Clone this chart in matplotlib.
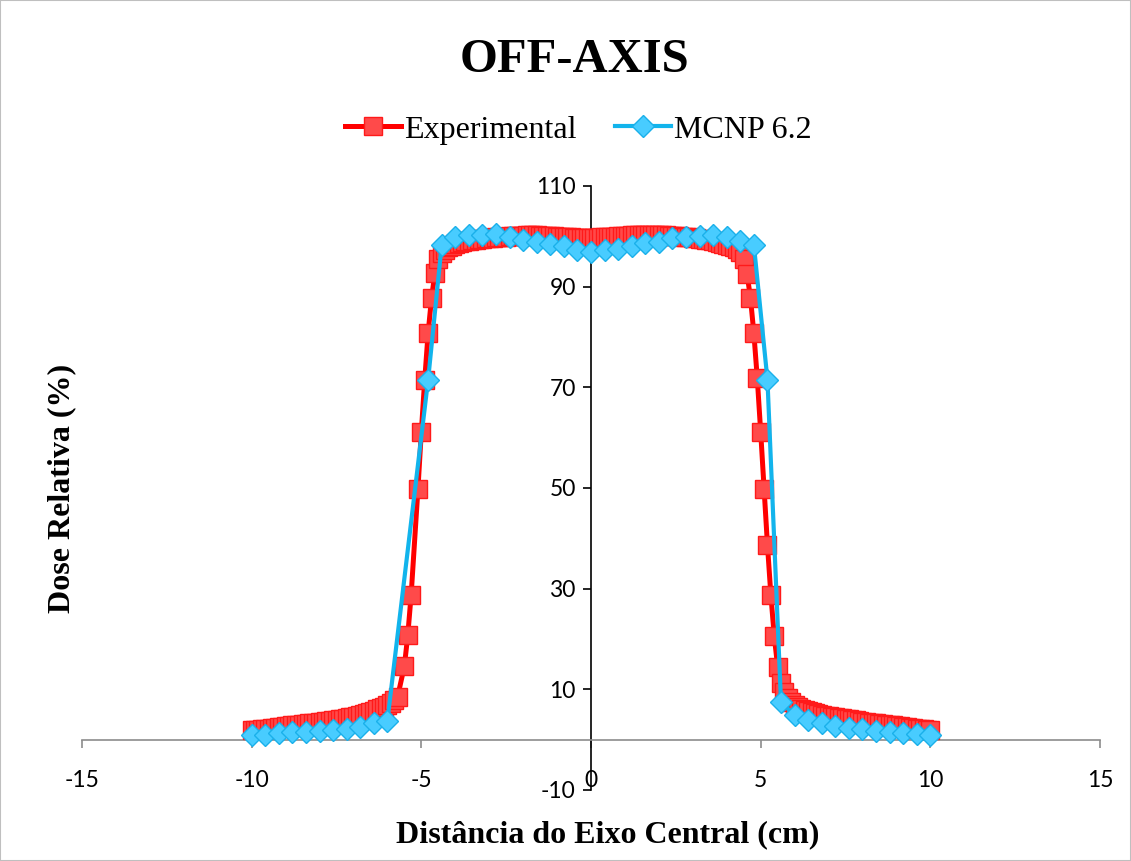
import numpy as np
import matplotlib
matplotlib.use("Agg")
import matplotlib.pyplot as plt
from matplotlib.patches import Rectangle

# Experimental (0.1 cm steps, a few gaps in the left penumbra)
exp_x = [
    -10.0, -9.9, -9.8, -9.7, -9.6, -9.5, -9.4, -9.3, -9.2, -9.1,
    -9.0, -8.9, -8.8, -8.7, -8.6, -8.5, -8.4, -8.3, -8.2, -8.1,
    -8.0, -7.9, -7.8, -7.7, -7.6, -7.5, -7.4, -7.3, -7.2, -7.1,
    -7.0, -6.9, -6.8, -6.7, -6.6, -6.5, -6.4, -6.3, -6.2, -6.1,
    -6.0, -5.9, -5.8, -5.7, -5.5, -5.4, -5.3, -5.1, -5.0, -4.9,
    -4.8, -4.7, -4.6, -4.5, -4.4,
    -4.3, -4.2, -4.1, -4.0, -3.9, -3.8, -3.7, -3.6, -3.5, -3.4,
    -3.3, -3.2, -3.1, -3.0, -2.9, -2.8, -2.7, -2.6, -2.5, -2.4,
    -2.3, -2.2, -2.1, -2.0, -1.9, -1.8, -1.7, -1.6, -1.5, -1.4,
    -1.3, -1.2, -1.1, -1.0, -0.9, -0.8, -0.7, -0.6, -0.5, -0.4,
    -0.3, -0.2, -0.1, 0.0, 0.1, 0.2, 0.3, 0.4, 0.5, 0.6,
    0.7, 0.8, 0.9, 1.0, 1.1, 1.2, 1.3, 1.4, 1.5, 1.6,
    1.7, 1.8, 1.9, 2.0, 2.1, 2.2, 2.3, 2.4, 2.5, 2.6,
    2.7, 2.8, 2.9, 3.0, 3.1, 3.2, 3.3, 3.4, 3.5, 3.6,
    3.7, 3.8, 3.9, 4.0, 4.1, 4.2, 4.3, 4.4,
    4.5, 4.6, 4.7, 4.8, 4.9, 5.0, 5.1, 5.2, 5.3, 5.4, 5.5,
    5.6, 5.7, 5.8, 5.9, 6.0, 6.1, 6.2, 6.3, 6.4, 6.5,
    6.6, 6.7, 6.8, 6.9, 7.0, 7.1, 7.2, 7.3, 7.4, 7.5,
    7.6, 7.7, 7.8, 7.9, 8.0, 8.1, 8.2, 8.3, 8.4, 8.5,
    8.6, 8.7, 8.8, 8.9, 9.0, 9.1, 9.2, 9.3, 9.4, 9.5,
    9.6, 9.7, 9.8, 9.9, 10.0,
]
exp_y = [
    1.9, 2.0, 2.0, 2.1, 2.1, 2.2, 2.3, 2.4, 2.5, 2.6,
    2.7, 2.8, 2.9, 2.9, 3.0, 3.1, 3.2, 3.3, 3.3, 3.4,
    3.5, 3.6, 3.7, 3.8, 3.9, 4.0, 4.1, 4.2, 4.3, 4.5,
    4.6, 4.8, 4.9, 5.1, 5.3, 5.5, 5.7, 6.0, 6.2, 6.5,
    6.9, 7.3, 7.8, 8.5, 14.6, 20.7, 28.8, 49.8, 61.2, 71.5,
    80.8, 87.7, 92.7, 95.4, 96.7,
    97.3, 97.8, 98.1, 98.4, 98.6, 98.8, 99.0, 99.1, 99.2, 99.3,
    99.4, 99.5, 99.6, 99.7, 99.7, 99.8, 99.8, 99.9, 99.9, 100.0,
    100.0, 100.1, 100.1, 100.1, 100.2, 100.2, 100.2, 100.2, 100.1, 100.1,
    100.1, 100.0, 100.0, 99.9, 99.9, 99.8, 99.8, 99.8, 99.7, 99.7,
    99.7, 99.7, 99.7, 99.7, 99.7, 99.7, 99.8, 99.8, 99.8, 99.9,
    99.9, 100.0, 100.0, 100.1, 100.1, 100.2, 100.2, 100.2, 100.3, 100.3,
    100.3, 100.3, 100.3, 100.2, 100.2, 100.2, 100.1, 100.1, 100.0, 100.0,
    99.9, 99.9, 99.8, 99.7, 99.6, 99.5, 99.4, 99.3, 99.2, 99.0,
    98.9, 98.7, 98.5, 98.3, 98.1, 97.8, 97.4, 96.9,
    95.4, 92.5, 87.7, 80.7, 71.8, 61.2, 49.8, 38.7, 28.8, 20.6, 14.5,
    11.2, 9.5, 8.3, 7.5, 6.9, 6.4, 6.0, 5.8, 5.6, 5.4,
    5.2, 5.1, 5.0, 4.8, 4.7, 4.6, 4.5, 4.4, 4.3, 4.2,
    4.1, 4.0, 3.9, 3.7, 3.6, 3.5, 3.4, 3.3, 3.3, 3.2,
    3.1, 3.0, 3.0, 2.9, 2.8, 2.7, 2.6, 2.5, 2.4, 2.3,
    2.2, 2.1, 2.1, 2.0, 1.9,
]

# MCNP 6.2 (0.4 cm steps)
mcnp_x = [
    -10.0, -9.6, -9.2, -8.8, -8.4, -8.0, -7.6, -7.2, -6.8, -6.4, -6.0,
    -4.8, -4.4, -4.0, -3.6, -3.2, -2.8, -2.4, -2.0, -1.6, -1.2, -0.8, -0.4,
    0.0, 0.4, 0.8, 1.2, 1.6, 2.0, 2.4, 2.8, 3.2, 3.6, 4.0, 4.4, 4.8,
    5.2, 5.6, 6.0, 6.4, 6.8, 7.2, 7.6, 8.0, 8.4, 8.8, 9.2, 9.6, 10.0,
]
mcnp_y = [
    0.9, 0.9, 1.3, 1.5, 1.6, 1.7, 1.9, 2.1, 2.6, 3.3, 3.8,
    71.5, 98.3, 99.9, 100.3, 100.3, 100.5, 99.8, 99.3, 98.9, 98.5, 98.1, 97.2,
    96.8, 97.2, 97.4, 98.1, 98.6, 98.9, 99.6, 99.9, 100.1, 100.3, 99.9, 99.1, 98.3,
    71.5, 7.4, 4.9, 3.9, 3.3, 2.7, 2.3, 2.1, 1.8, 1.6, 1.3, 1.1, 0.9,
]

xticks = [-15, -10, -5, 0, 5, 10, 15]
yticks = [-10, 10, 30, 50, 70, 90, 110]

serif = "Liberation Serif"
sans = "Lato"
plt.rcParams["axes.unicode_minus"] = False

fig = plt.figure(figsize=(11.31, 8.61), dpi=100)
ax = fig.add_axes([82 / 1131, 1 - 790 / 861, 1018 / 1131, 604 / 861])

ax.plot(exp_x, exp_y, color="#ff0000", lw=3.6, marker="s", markersize=13,
        markerfacecolor="#ff4a4a", markeredgecolor="#ff1a1a", markeredgewidth=1,
        label="Experimental", zorder=3)
ax.plot(mcnp_x, mcnp_y, color="#12b4ec", lw=3.0, marker="D", markersize=11.5,
        markerfacecolor="#48ccff", markeredgecolor="#1ab0ea", markeredgewidth=1,
        label="MCNP 6.2", zorder=4)

ax.set_xlim(-15, 15)
ax.set_ylim(-10, 110)
ax.set_xticks(xticks)
ax.set_yticks(yticks)

ax.spines["top"].set_visible(False)
ax.spines["right"].set_visible(False)
ax.spines["left"].set_position(("data", 0))
ax.spines["bottom"].set_position(("data", 0))
ax.spines["left"].set_color("black")
ax.spines["left"].set_linewidth(1.2)
ax.spines["bottom"].set_color("#8c8c8c")
ax.spines["bottom"].set_linewidth(1.2)

ax.tick_params(axis="y", direction="out", length=6, width=1.2, color="black",
               labelsize=16.5, pad=5)
ax.tick_params(axis="x", direction="out", length=6, width=1.2, color="#8c8c8c",
               labelsize=16.5, pad=16)
for lab in ax.get_xticklabels() + ax.get_yticklabels():
    lab.set_fontfamily(sans)

leg = fig.legend(loc="center", bbox_to_anchor=(578 / 1131, 1 - 130 / 861), ncol=2,
                 frameon=False, prop={"family": serif, "size": 23},
                 handlelength=1.75, handletextpad=0.1, columnspacing=1.2)

fig.text(575 / 1131, 1 - 60 / 861, "OFF-AXIS", ha="center", va="center",
         family=serif, weight="bold", size=35)
fig.text(608 / 1131, 1 - 835 / 861, "Distância do Eixo Central (cm)", ha="center",
         va="center", family=serif, weight="bold", size=23)
fig.text(62 / 1131, 1 - 488 / 861, "Dose Relativa (%)", ha="center", va="center",
         rotation=90, family=serif, weight="bold", size=23)

fig.patches.append(Rectangle((0, 0), 1, 1, transform=fig.transFigure, fill=False,
                             edgecolor="#bfbfbf", lw=1.5))

fig.savefig("out.png", dpi=100)
